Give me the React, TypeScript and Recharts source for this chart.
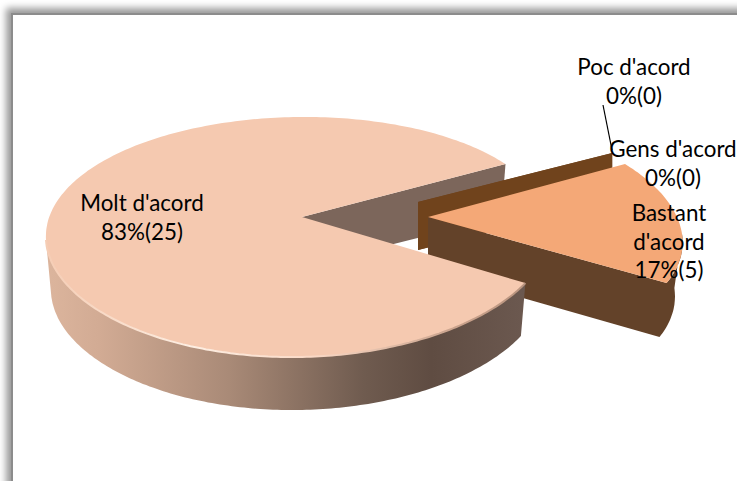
import React from 'react';
import { PieChart, Pie } from 'recharts';

const categories = ['Poc d\'acord', 'Gens d\'acord', 'Bastant d\'acord', 'Molt d\'acord'];
const responses = [0, 0, 5, 25];
const total = responses.reduce((a, b) => a + b, 0);
const tableData = categories.map((name, i) => ({ name, value: responses[i] }));

// projection of each slice: the flat pie angle goes onto a tilted ellipse
const geometry: Record<string, any> = {
  "Molt d'acord": { dx: 0, rx: 252, warp: 0.03, apexX: 302, apexY: 217, depth: 53, base: 0.98, apexDepth: 50 },
  "Bastant d'acord": { dx: 130, rx: 254, warp: -0.07, apexX: 428, apexY: 217, depth: 54, base: 0.97, apexDepth: 54 },
  "Gens d'acord": { dx: 120, dy: -11, rx: 240, warp: 0, apexX: 418, apexY: 202, depth: 48, base: 1, apexDepth: 48 },
  "Poc d'acord": { dx: 120, dy: -11, rx: 240, warp: 0, apexX: 418, apexY: 202, depth: 48, base: 1, apexDepth: 48 },
};

const labelSpots: Record<string, any> = {
  "Molt d'acord": { x: 142, y: 211, lines: ["Molt d'acord"] },
  "Bastant d'acord": { x: 669, y: 221, lines: ['Bastant', "d'acord"] },
  "Gens d'acord": { x: 673, y: 157, lines: ["Gens d'acord"] },
  "Poc d'acord": { x: 634, y: 75, lines: ["Poc d'acord"] },
};

const FLATTEN = 120;
const SHEAR = -3;

const project = (g: any, cx: number, cy: number, deg: number) => {
  const t = (deg * Math.PI) / 180;
  return {
    x: cx + g.dx + g.rx * Math.cos(t) * (1 + g.warp * Math.sin(t)),
    y: cy + (g.dy || 0) - FLATTEN * Math.sin(t) + SHEAR * Math.cos(t),
  };
};

const arcPoints = (g: any, cx: number, cy: number, from: number, to: number) => {
  const pts = [];
  const steps = Math.max(1, Math.ceil(Math.abs(to - from)));
  for (let i = 0; i <= steps; i++) pts.push(project(g, cx, cy, from + ((to - from) * i) / steps));
  return pts;
};

const lower = (g: any, cx: number, p: any) => ({
  x: cx + g.dx + (p.x - cx - g.dx) * g.base,
  y: p.y + g.depth,
});

const toPath = (pts: any[]) => 'M' + pts.map((p) => `${p.x.toFixed(1)},${p.y.toFixed(1)}`).join('L') + 'Z';

// only the far cut wall of the big slice, it sits behind everything else
const BackWall = (props: any) => {
  const { cx, cy, endAngle, name } = props;
  if (name !== "Molt d'acord") return <g />;
  const g = geometry[name];
  const corner = project(g, cx, cy, endAngle);
  const low = lower(g, cx, corner);
  return (
    <path
      d={toPath([{ x: g.apexX, y: g.apexY }, corner, low, { x: g.apexX, y: g.apexY + g.apexDepth }])}
      fill="#7c665b"
    />
  );
};

const Slice = (props: any) => {
  const { cx, cy, startAngle, endAngle, name, value } = props;
  const g = geometry[name];
  const apex = { x: g.apexX, y: g.apexY };

  // empty slices only show their cut wall
  if (value === 0) {
    const corner = project(g, cx, cy, startAngle);
    return (
      <path
        d={toPath([apex, corner, lower(g, cx, corner), { x: apex.x, y: apex.y + g.apexDepth }])}
        fill="#70431c"
      />
    );
  }

  const top = toPath([apex, ...arcPoints(g, cx, cy, startAngle, endAngle)]);

  if (name === "Bastant d'acord") {
    const rim = arcPoints(g, cx, cy, endAngle, endAngle + 24);
    const wall = [
      apex,
      ...rim,
      ...rim.slice().reverse().map((p) => lower(g, cx, p)),
      { x: apex.x, y: apex.y + g.apexDepth },
    ];
    return (
      <g>
        <path d={toPath(wall)} fill="#634229" />
        <path d={top} fill="#f4a877" />
      </g>
    );
  }

  const rim = arcPoints(g, cx, cy, startAngle, -180);
  const side = [...rim, ...rim.slice().reverse().map((p) => lower(g, cx, p))];
  return (
    <g>
      <defs>
        <linearGradient id="sideShade" gradientUnits="userSpaceOnUse" x1={46} y1={0} x2={528} y2={0}>
          <stop offset="0" stopColor="#dcb59d" />
          <stop offset="0.11" stopColor="#d2ab94" />
          <stop offset="0.38" stopColor="#a98a77" />
          <stop offset="0.66" stopColor="#6f5b4f" />
          <stop offset="0.8" stopColor="#5f4c42" />
          <stop offset="1" stopColor="#6c5950" />
        </linearGradient>
        <linearGradient id="rimShade" gradientUnits="userSpaceOnUse" x1={46} y1={0} x2={528} y2={0}>
          <stop offset="0" stopColor="#f5cdb5" />
          <stop offset="0.3" stopColor="#fdeee2" />
          <stop offset="0.55" stopColor="#fad9c6" />
          <stop offset="0.85" stopColor="#c9a28c" />
          <stop offset="1" stopColor="#b8937e" />
        </linearGradient>
      </defs>
      <path d={toPath(side)} fill="url(#sideShade)" />
      <path d={top} fill="#f5c9b0" />
      <path
        d={'M' + rim.map((p) => `${p.x.toFixed(1)},${p.y.toFixed(1)}`).join('L')}
        fill="none"
        stroke="url(#rimShade)"
        strokeWidth={2}
      />
    </g>
  );
};

const renderLabel = (props: any) => {
  const { name, value } = props;
  const spot = labelSpots[name];
  const pct = `${Math.round((value / total) * 100)}%(${value})`;
  return (
    <g key={name}>
      {name === "Poc d'acord" && <line x1={603} y1={105} x2={612} y2={150} stroke="#000" strokeWidth={1.2} />}
      <text x={spot.x} y={spot.y} textAnchor="middle" fontFamily="Lato, sans-serif" fontSize={22.4} fill="#000">
        {[...spot.lines, pct].map((line: string, i: number) => (
          <tspan key={line} x={spot.x} dy={i === 0 ? 0 : 28.5}>
            {line}
          </tspan>
        ))}
      </text>
    </g>
  );
};

const App: React.FC = () => {
  return (
    <div style={{ position: 'fixed', left: 0, top: 0, width: 737, height: 481, overflow: 'hidden', background: '#fff' }}>
      <div
        style={{
          position: 'absolute',
          left: 11,
          top: 13,
          width: 900,
          height: 700,
          background: '#fff',
          borderLeft: '2px solid #8c8c8c',
          borderTop: '2px solid #8c8c8c',
          boxShadow: '-3px -3px 7px 2px #9a9a9a',
        }}
      />
      <div style={{ position: 'absolute', left: 0, top: 0 }}>
        <PieChart width={737} height={481} margin={{ top: 0, right: 0, bottom: 0, left: 0 }}>
          <Pie
            data={tableData}
            dataKey="value"
            nameKey="name"
            cx={298}
            cy={237}
            outerRadius={252}
            startAngle={36}
            endAngle={-324}
            stroke="none"
            shape={BackWall}
            isAnimationActive={false}
          />
          <Pie
            data={tableData}
            dataKey="value"
            nameKey="name"
            cx={298}
            cy={237}
            outerRadius={252}
            startAngle={36}
            endAngle={-324}
            stroke="none"
            shape={Slice}
            label={renderLabel}
            labelLine={false}
            isAnimationActive={false}
          />
        </PieChart>
      </div>
    </div>
  );
};

export default App;
